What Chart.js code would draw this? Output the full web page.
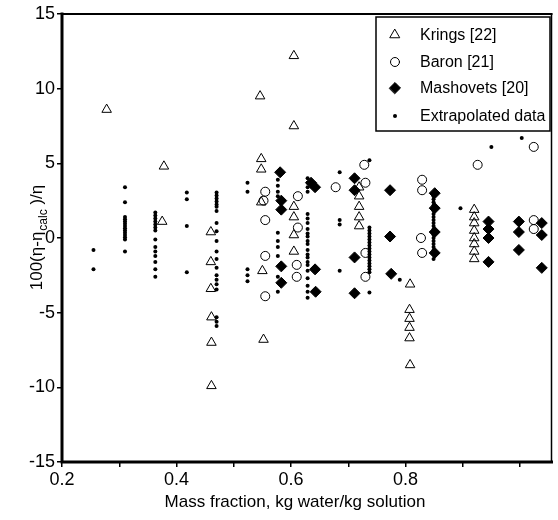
<!DOCTYPE html>
<html>
<head>
<meta charset="utf-8">
<script src="https://cdn.jsdelivr.net/npm/chart.js@4.4.1/dist/chart.umd.min.js"></script>
<style>
  html,body{margin:0;padding:0;background:#fff;}
  #wrap{position:relative;width:558px;height:520px;}
</style>
</head>
<body>
<div id="wrap"><canvas id="c" width="558" height="520"></canvas></div>
<script>
// ---- data ----
const seriesNames = ['Krings [22]', 'Baron [21]', 'Mashovets [20]', 'Extrapolated data'];

const krings = [
  [0.278,8.6],[0.378,4.8],[0.375,1.1],
  [0.46,0.4],[0.46,-1.6],[0.46,-3.4],[0.461,-5.3],[0.461,-7.0],[0.461,-9.9],
  [0.546,9.5],[0.548,5.3],[0.548,4.6],[0.548,2.4],[0.55,-2.2],[0.552,-6.8],
  [0.605,12.2],[0.605,7.5],[0.605,2.1],[0.605,1.4],[0.605,0.2],[0.605,-0.9],
  [0.719,3.4],[0.719,2.8],[0.719,2.1],[0.719,1.4],[0.719,0.8],
  [0.808,-3.1],[0.807,-4.8],[0.807,-5.4],[0.807,-6.0],[0.807,-6.7],[0.808,-8.5],
  [0.92,1.9],[0.92,1.4],[0.92,1.0],[0.92,0.5],[0.92,0.0],[0.92,-0.4],[0.92,-0.9],[0.92,-1.4]
];

const baron = [
  [0.555,3.1],[0.552,2.5],[0.555,1.2],[0.555,-1.2],[0.555,-3.9],
  [0.612,2.8],[0.612,0.7],[0.61,-1.8],[0.61,-2.6],
  [0.678,3.4],[0.728,4.9],[0.73,3.7],[0.73,-1.0],[0.73,-2.6],
  [0.829,3.9],[0.829,3.2],[0.827,0.0],[0.829,-1.0],
  [0.926,4.9],[1.024,6.1],[1.024,1.2],[1.024,0.6]
];

const mashovets = [
  [0.581,4.4],[0.583,2.5],[0.583,1.9],[0.583,-1.9],[0.583,-3.0],
  [0.635,3.7],[0.642,3.4],[0.642,-2.1],[0.643,-3.6],
  [0.711,4.0],[0.711,3.2],[0.711,-1.3],[0.711,-3.7],
  [0.773,3.2],[0.773,0.1],[0.775,-2.4],
  [0.851,3.0],[0.851,2.0],[0.851,0.4],[0.851,-1.0],
  [0.945,1.1],[0.945,0.6],[0.945,0.0],[0.945,-1.6],
  [0.998,1.1],[0.998,0.4],[0.998,-0.8],
  [1.038,1.0],[1.038,0.2],[1.038,-2.0]
];

const extrapolated = [
  [0.255,-0.8],[0.255,-2.1],
  [0.31,3.4],[0.31,2.4],[0.31,1.4],[0.31,1.25],[0.31,1.1],[0.31,0.95],[0.31,0.8],[0.31,0.65],[0.31,0.5],[0.31,0.35],[0.31,0.2],[0.31,0.05],[0.31,-0.1],[0.31,-0.9],
  [0.363,1.7],[0.363,1.5],[0.363,1.3],[0.363,1.1],[0.363,0.9],[0.363,0.7],[0.363,0.5],[0.363,-0.1],[0.363,-0.6],[0.363,-0.9],[0.363,-1.2],[0.363,-1.6],[0.363,-2.1],[0.363,-2.6],
  [0.418,3.05],[0.418,2.6],[0.418,0.8],[0.418,-2.3],
  [0.47,3.05],[0.47,2.85],[0.47,2.65],[0.47,2.45],[0.47,2.25],[0.47,2.1],[0.47,1.8],[0.47,1.0],[0.47,0.45],[0.47,-0.2],[0.47,-0.9],[0.47,-1.4],[0.47,-2.0],[0.47,-2.5],[0.47,-2.8],[0.47,-3.1],[0.47,-3.45],[0.47,-5.3],[0.47,-5.6],[0.47,-5.9],
  [0.524,3.7],[0.524,3.1],[0.524,-2.1],[0.524,-2.5],[0.524,-2.9],
  [0.577,3.9],[0.577,3.5],[0.577,3.1],[0.577,2.8],[0.577,0.35],[0.577,-0.2],[0.577,-0.6],[0.577,-1.2],[0.577,-2.6],[0.577,-3.6],
  [0.629,4.0],[0.629,3.7],[0.629,3.4],[0.629,3.1],[0.629,1.6],[0.629,1.3],[0.629,1.0],[0.629,0.6],[0.629,0.3],[0.629,0.1],[0.629,-0.2],[0.629,-0.4],[0.629,-0.8],[0.629,-1.1],[0.629,-1.3],[0.629,-1.6],[0.629,-1.8],[0.629,-2.2],[0.629,-2.7],[0.629,-3.2],[0.629,-3.6],[0.629,-4.0],
  [0.685,4.4],[0.685,1.2],[0.685,0.9],[0.685,-2.2],
  [0.737,5.2],[0.737,0.7],[0.737,0.5],[0.737,0.3],[0.737,0.1],[0.737,-0.1],[0.737,-0.3],[0.737,-0.5],[0.737,-0.7],[0.737,-0.9],[0.737,-1.1],[0.737,-1.3],[0.737,-1.5],[0.737,-1.7],[0.737,-1.9],[0.737,-2.1],[0.737,-2.3],[0.737,-3.65],
  [0.79,-2.8],
  [0.849,2.8],[0.849,2.6],[0.849,2.4],[0.849,2.2],[0.849,1.8],[0.849,1.6],[0.849,1.4],[0.849,1.2],[0.849,1.0],[0.849,0.8],[0.849,0.6],[0.849,0.2],[0.849,0.0],[0.849,-0.2],[0.849,-0.4],[0.849,-0.6],[0.849,-0.8],[0.849,-1.4],
  [0.896,2.0],[0.95,6.1],[1.003,6.7]
];

const xTickValues = [0.2,0.3,0.4,0.5,0.6,0.7,0.8,0.9,1.0];
const xTickLabels = ['0.2','','0.4','','0.6','','0.8','',''];
const yTickValues = [-15,-10,-5,0,5,10,15];
const yTickLabels = ['-15','-10','-5','0','5','10','15'];
const xTitle = 'Mass fraction, kg water/kg solution';
const yTitleParts = ['100(\u03b7-\u03b7', 'calc', ' )/\u03b7'];

// ---- rendering ----
const FONT = "'Liberation Sans', Arial, Helvetica, sans-serif";
const toPts = arr => arr.map(p => ({x: p[0], y: p[1]}));

const styles = [
  {pointStyle:'triangle', radius:5.5, bg:'rgba(0,0,0,0)', bw:1},
  {pointStyle:'circle', radius:4.5, bg:'rgba(0,0,0,0)', bw:1},
  {pointStyle:'rectRot', radius:5.5, bg:'#000', bw:1},
  {pointStyle:'circle', radius:2, bg:'#000', bw:0}
];
const seriesData = [krings, baron, mashovets, extrapolated];

const datasets = [3,0,1,2].map(i => ({
  label: seriesNames[i],
  data: toPts(seriesData[i]),
  pointStyle: styles[i].pointStyle,
  pointRadius: styles[i].radius,
  pointBackgroundColor: styles[i].bg,
  pointBorderColor: '#000',
  pointBorderWidth: styles[i].bw,
  showLine: false
}));

const decorPlugin = {
  id: 'decor',
  afterDraw(chart) {
    const ctx = chart.ctx;
    const a = chart.chartArea;
    ctx.save();
    ctx.strokeStyle = '#000';
    ctx.lineCap = 'square';
    // frame
    ctx.lineWidth = 3;
    ctx.beginPath(); ctx.moveTo(a.left, a.top); ctx.lineTo(a.left, a.bottom); ctx.lineTo(a.right, a.bottom); ctx.stroke();
    ctx.lineWidth = 2;
    ctx.beginPath(); ctx.moveTo(a.left, a.top); ctx.lineTo(a.right, a.top); ctx.stroke();
    ctx.lineWidth = 1.5;
    ctx.beginPath(); ctx.moveTo(a.right, a.top); ctx.lineTo(a.right, a.bottom); ctx.stroke();

    // legend box
    const lx = 376, ly = 17, lw = 174, lh = 114;
    ctx.fillStyle = '#fff';
    ctx.fillRect(lx, ly, lw, lh);
    ctx.lineWidth = 1.5;
    ctx.strokeRect(lx, ly, lw, lh);
    const rows = [35, 62, 88, 116];
    ctx.font = '16px ' + FONT;
    ctx.textBaseline = 'middle';
    ctx.textAlign = 'left';
    [0,1,2,3].forEach((i, k) => {
      ctx.save();
      ctx.fillStyle = styles[i].bg;
      ctx.strokeStyle = '#000';
      ctx.lineWidth = styles[i].bw || 0.01;
      Chart.helpers.drawPoint(ctx, {pointStyle: styles[i].pointStyle, radius: styles[i].radius, borderWidth: styles[i].bw, rotation: 0}, 395, rows[k]);
      ctx.restore();
      ctx.fillStyle = '#000';
      ctx.fillText(seriesNames[i], 420, rows[k] + 1);
    });

    // x title
    ctx.font = '17px ' + FONT;
    ctx.textAlign = 'center';
    ctx.textBaseline = 'alphabetic';
    ctx.fillStyle = '#000';
    ctx.fillText(xTitle, 295, 507);

    // y title with subscript
    ctx.translate(42, 238);
    ctx.rotate(-Math.PI / 2);
    ctx.textAlign = 'left';
    const fMain = '17px ' + FONT, fSub = '12px ' + FONT;
    ctx.font = fMain; const w1 = ctx.measureText(yTitleParts[0]).width; const w3 = ctx.measureText(yTitleParts[2]).width;
    ctx.font = fSub; const w2 = ctx.measureText(yTitleParts[1]).width;
    let x0 = -(w1 + w2 + w3) / 2;
    ctx.font = fMain; ctx.fillText(yTitleParts[0], x0, 0);
    ctx.font = fSub; ctx.fillText(yTitleParts[1], x0 + w1 + 1, 5);
    ctx.font = fMain; ctx.fillText(yTitleParts[2], x0 + w1 + w2 + 1, 0);
    ctx.restore();
  }
};

new Chart(document.getElementById('c'), {
  type: 'scatter',
  data: { datasets },
  options: {
    responsive: false,
    animation: false,
    devicePixelRatio: 1,
    layout: { padding: { top: 14, right: 2, left: 0, bottom: 0 } },
    plugins: { legend: { display: false }, tooltip: { enabled: false } },
    scales: {
      x: {
        type: 'linear', min: 0.2, max: 1.055,
        afterBuildTicks: s => { s.ticks = xTickValues.map(v => ({ value: v })); },
        afterFit: s => { s.height = 58; },
        ticks: { callback: (v, i) => xTickLabels[i], color: '#000', font: { family: FONT, size: 18 }, padding: 2, maxRotation: 0, autoSkip: false },
        grid: { drawOnChartArea: false, drawTicks: true, tickLength: 5, color: '#000', lineWidth: 1.5 },
        border: { display: false },
        title: { display: false }
      },
      y: {
        type: 'linear', min: -15, max: 15,
        afterBuildTicks: s => { s.ticks = yTickValues.map(v => ({ value: v })); },
        afterFit: s => { s.width = 62; },
        ticks: { callback: (v, i) => yTickLabels[i], color: '#000', font: { family: FONT, size: 18 }, padding: 2, autoSkip: false },
        grid: { drawOnChartArea: false, drawTicks: true, tickLength: 5, color: '#000', lineWidth: 1.5 },
        border: { display: false },
        title: { display: false }
      }
    }
  },
  plugins: [decorPlugin]
});
</script>
</body>
</html>
